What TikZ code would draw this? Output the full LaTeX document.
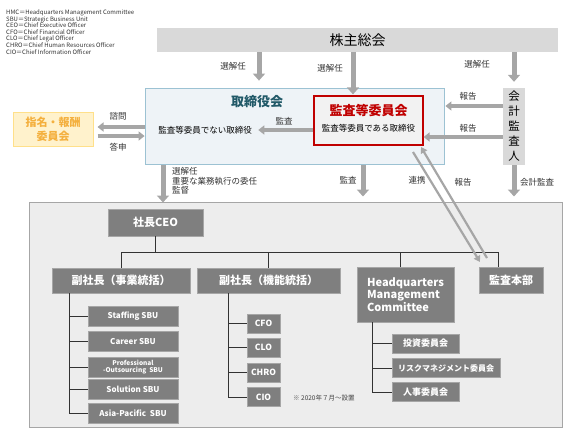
\documentclass[tikz,border=0pt]{standalone}
\usepackage{fontspec}
\setmainfont{Noto Sans CJK JP}
\usetikzlibrary{arrows.meta}
\definecolor{shgray}{HTML}{D9D9D9}
\definecolor{arrgray}{HTML}{A6A6A6}
\definecolor{boxgray}{HTML}{7F7F7F}
\definecolor{panelgray}{HTML}{EDEDED}
\definecolor{boardfill}{HTML}{EEF3F7}
\definecolor{boardline}{HTML}{9CC2D3}
\definecolor{boardtitle}{HTML}{215968}
\definecolor{auditred}{HTML}{C00000}
\definecolor{nomfill}{HTML}{FFF2CC}
\definecolor{nomline}{HTML}{FFE08A}
\definecolor{nomtext}{HTML}{F4B03E}
\newcommand{\fs}[1]{\fontsize{#1}{#1}\selectfont}

\begin{document}
\begin{tikzpicture}[x=1pt,y=-1pt,
    bigarrow/.style={arrgray,line width=5pt,-{Triangle[width=12pt,length=7pt]}},
    midarrow/.style={arrgray,line width=3.5pt,-{Triangle[width=9pt,length=6pt]}},
    thinarrow/.style={arrgray,line width=2.2pt,-{Triangle[width=7pt,length=6pt]}},
    orgbox/.style={fill=boxgray,draw=gray!70,text=white,font=\bfseries\fs{11},inner sep=0pt},
    tree/.style={black!80,line width=0.8pt},
    lbl/.style={font=\fs{8.5},text=black!80,inner sep=0pt}]
    \useasboundingbox (0,0) rectangle (573,432);
    % legend
    \node (legend) [anchor=north west,align=left,inner sep=0pt,font=\fontsize{6}{6.6}\selectfont,text=black!80] at (6,9.5)
        {HMC＝Headquarters Management Committee\\SBU＝Strategic Business Unit\\CEO＝Chief Executive Officer\\CFO＝Chief Financial Officer\\CLO＝Chief Legal Officer\\CHRO＝Chief Human Resources Officer\\CIO＝Chief Information Officer};
    % top level
    \node (gm) at (357.5,40) [fill=shgray,minimum width=401pt,minimum height=24pt,font=\fs{14}] {株主総会};
    \node (board) at (295,126.5) [fill=boardfill,draw=boardline,line width=1.8pt,minimum width=299pt,minimum height=76pt] {};
    \node (boardttl) at (257,102) [font=\bfseries\fs{13},text=boardtitle] {取締役会};
    \node (nonaudit) at (205,130) [font=\fs{8.5}] {監査等委員でない取締役};
    \node (acom) at (368.5,120.5) [fill=black!5,draw=auditred,line width=1.2pt,minimum width=109pt,minimum height=49pt] {};
    \node (acomttl) at (368.5,111) [font=\bfseries\fs{13},text=auditred] {監査等委員会};
    \node (acomsub) at (368.5,128) [font=\fs{8.5}] {監査等委員である取締役};
    \node (nom) at (53,129) [fill=nomfill,draw=nomline,line width=1pt,minimum width=80pt,minimum height=34pt,align=center,font=\bfseries\fontsize{11}{14}\selectfont,text=nomtext] {指名・報酬\\委員会};
    \node (auditor) at (514,126.5) [fill=shgray,minimum width=22pt,minimum height=77pt,align=center,inner sep=0pt,font=\fontsize{11.5}{15}\selectfont] {会\\計\\監\\査\\人};
    % executive panel
    \node (panel) at (295.5,314.5) [fill=panelgray,draw=arrgray,line width=1pt,minimum width=533pt,minimum height=225pt] {};
    \node (ceo) at (155.5,222.5) [orgbox,minimum width=95pt,minimum height=27pt] {社長CEO};
    \node (vp1) at (121,280.5) [orgbox,minimum width=138pt,minimum height=25pt] {副社長（事業統括）};
    \node (vp2) at (268.5,280.5) [orgbox,minimum width=143pt,minimum height=25pt] {副社長（機能統括）};
    \node (hmc) at (405.5,294.5) [orgbox,minimum width=97pt,minimum height=55pt,align=left,font=\bfseries\fontsize{11}{12.5}\selectfont] {Headquarters\\Management\\Committee};
    \node (iad) at (511,280) [orgbox,minimum width=64pt,minimum height=26pt] {監査本部};
    % SBU
    \foreach \n/\y/\t in {1/316.5/Staffing SBU,2/341.5/Career SBU,4/389.5/Solution SBU,5/413.5/Asia-Pacific\ \ SBU} {
        \node (sbu\n) at (133,\y) [orgbox,minimum width=90pt,minimum height=20pt,font=\bfseries\fs{8}] {\t};
    }
    \node (sbu3) at (133,367) [orgbox,minimum width=90pt,minimum height=20pt,align=center,font=\bfseries\fontsize{6.5}{7.5}\selectfont] {Professional\\-Outsourcing\ \ SBU};
    % functions
    \foreach \n/\y/\t in {1/323.5/CFO,2/347.5/CLO,3/372.5/CHRO,4/397/CIO} {
        \node (fn\n) at (263.5,\y) [orgbox,minimum width=33pt,minimum height=19pt,font=\bfseries\fs{8.5}] {\t};
    }
    \node (note) at (293,398) [anchor=west,inner sep=0pt,font=\fs{6.5},text=black!75] {※ 2020年７月～設置};
    % committees
    \foreach \n/\y/\w/\s/\t in {1/343.5/67/9/投資委員会,2/368/108/8/リスクマネジメント委員会,3/392/67/9/人事委員会} {
        \node (cm\n) at (392,\y) [orgbox,anchor=west,minimum width=\w pt,minimum height=19pt,font=\bfseries\fs{\s}] {\t};
    }
    % tree lines
    \coordinate (bus) at (0,252);
    \draw[tree] (ceo.south) -- (ceo.south |- bus);
    \draw[tree] (vp1.north) |- ([xshift=-13pt]iad.north |- bus) -- ([xshift=-13pt]iad.north);
    \draw[tree] (vp2.north) -- (vp2.north |- bus);
    \draw[tree] ([xshift=-5pt]hmc.north) -- ([xshift=-5pt]hmc.north |- bus);
    \foreach \n in {1,...,5} { \draw[tree] (sbu\n.west) -| ([xshift=-52pt]vp1.south); }
    \foreach \n in {1,...,4} { \draw[tree] (fn\n.west) -| ([xshift=-40.5pt]vp2.south); }
    \foreach \n in {1,...,3} { \draw[tree] (cm\n.west) -| ([xshift=-33.5pt]hmc.south); }
    % arrows from the general meeting
    \coordinate (c1) at (259,0);
    \coordinate (c2) at (353,0);
    \draw[bigarrow,shorten >=7pt] (gm.south -| c1) -- (board.north -| c1);
    \draw[bigarrow,shorten >=1pt] (gm.south -| c2) -- (acom.north -| c2);
    \draw[bigarrow,shorten >=6pt] (gm.south -| auditor) -- (auditor.north);
    \node (l1) at (233,66) [lbl] {選解任};
    \node (l2) at (330,68) [lbl] {選解任};
    \node (l3) at (477,64) [lbl] {選解任};
    % board side arrows
    \coordinate (q1) at (0,127);
    \coordinate (q2) at (0,136);
    \draw[midarrow,shorten >=4pt] (board.west |- q1) -- (nom.east |- q1);
    \draw[midarrow,shorten <=4pt] (nom.east |- q2) -- (board.west |- q2);
    \node (l4) at (118,116) [lbl] {諮問};
    \node (l5) at (118,147) [lbl] {答申};
    \draw[midarrow,shorten >=3pt] (acom.west |- nonaudit) -- (nonaudit.east);
    \node (l6) at (284,121) [lbl] {監査};
    \coordinate (q3) at (0,106);
    \coordinate (q4) at (0,137);
    \draw[midarrow] (auditor.west |- q3) -- (board.east |- q3);
    \draw[midarrow] (auditor.west |- q4) -- (acom.east |- q4);
    \node (l7) at (468,96) [lbl] {報告};
    \node (l8) at (468,128) [lbl] {報告};
    % arrows into the panel
    \coordinate (c3) at (163,0);
    \coordinate (c4) at (363,0);
    \draw[bigarrow,shorten >=-1pt] (board.south -| c3) -- (panel.north -| c3);
    \node (l9) [anchor=north west,align=left,inner sep=0pt,font=\fontsize{8.5}{9.5}\selectfont,text=black!80] at (172,167.5) {選解任\\重要な業務執行の委任\\監督};
    \draw[bigarrow,shorten >=5pt] (board.south -| c4) -- (panel.north -| c4);
    \node (l10) at (348,180) [lbl] {監査};
    \draw[bigarrow,shorten >=5pt] (auditor.south) -- (panel.north -| auditor);
    \node (l11) at (537,182) [lbl] {会計監査};
    % cooperation with internal audit
    \coordinate (dA1) at (413,152);
    \coordinate (dA2) at (480,262);
    \coordinate (dB1) at (487,258);
    \coordinate (dB2) at (421,147);
    \draw[thinarrow] (dA1) -- (dA2);
    \draw[thinarrow] (dB1) -- (dB2);
    \node (l12) at (417,180) [lbl] {連携};
    \node (l13) at (463,182) [lbl] {報告};
\end{tikzpicture}
\end{document}
